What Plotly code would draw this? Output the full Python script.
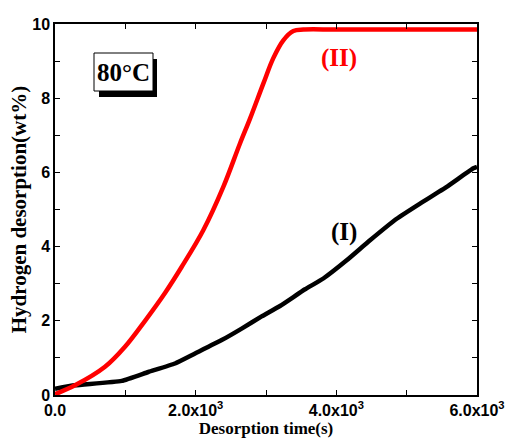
import plotly.graph_objects as go

# Series (II) - red
t_II = [0, 284, 711, 995, 1280, 1564, 1800, 2108, 2393, 2630, 2773, 2963, 3104, 3246, 3389, 3531, 4000, 5000, 6000]
w_II = [0.02, 0.26, 0.76, 1.30, 2.00, 2.75, 3.45, 4.44, 5.61, 6.78, 7.45, 8.40, 9.08, 9.56, 9.81, 9.85, 9.85, 9.85, 9.85]

# Series (I) - black
t_I = [0, 284, 948, 1327, 1706, 1991, 2370, 2654, 2938, 3199, 3555, 3815, 4147, 4479, 4858, 5190, 5569, 5948, 6000]
w_I = [0.17, 0.26, 0.38, 0.62, 0.85, 1.12, 1.48, 1.79, 2.12, 2.40, 2.85, 3.14, 3.63, 4.17, 4.75, 5.16, 5.61, 6.11, 6.15]

x_tickvals = [0, 2000, 4000, 6000]
x_ticktext = ["0.0", "2.0x10<sup>3</sup>", "4.0x10<sup>3</sup>", "6.0x10<sup>3</sup>"]
y_tickvals = [0, 2, 4, 6, 8, 10]

fig = go.Figure()
fig.add_trace(go.Scatter(x=t_I, y=w_I, mode="lines",
                         line=dict(color="black", width=4.5, shape="spline", smoothing=0.4),
                         showlegend=False))
fig.add_trace(go.Scatter(x=t_II, y=w_II, mode="lines",
                         line=dict(color="#ff0000", width=4.5, shape="spline", smoothing=1.0),
                         showlegend=False))

L, R, T, B = 55, 28, 24, 53
W, H = 505, 448
pw, ph = W - L - R, H - T - B

def px(x):
    return (x - L) / pw

def py(y):
    return (H - B - y) / ph

axis_common = dict(
    showline=True, linecolor="black", linewidth=1.5, mirror="allticks",
    ticks="inside", ticklen=5, tickwidth=1, tickcolor="black",
    showgrid=False, zeroline=False, automargin=False,
    tickfont=dict(family="Liberation Sans", size=16, color="black", weight="bold"),
)

fig.update_xaxes(range=[0, 6000], tickvals=x_tickvals, ticktext=x_ticktext,
                 minor=dict(dtick=1000, ticks="inside", ticklen=5, tickcolor="black"),
                 title=dict(text="Desorption time(s)", standoff=4,
                            font=dict(family="Liberation Serif", size=17, color="black", weight="bold")),
                 **axis_common)
fig.update_yaxes(range=[0, 10], tickvals=y_tickvals,
                 minor=dict(dtick=1, ticks="inside", ticklen=5, tickcolor="black"),
                 title=dict(text="Hydrogen desorption(wt%)", standoff=0,
                            font=dict(family="Liberation Serif", size=21, color="black", weight="bold")),
                 **axis_common)

# 80°C box with shadow
fig.add_shape(type="rect", xref="paper", yref="paper",
              x0=px(99), x1=px(157), y0=py(97), y1=py(59),
              fillcolor="black", line=dict(width=0))
fig.add_shape(type="rect", xref="paper", yref="paper",
              x0=px(94), x1=px(153), y0=py(91), y1=py(53),
              fillcolor="white", line=dict(color="black", width=1))
fig.add_annotation(xref="paper", yref="paper", x=px(123.5), y=py(72), text="80°C",
                   showarrow=False, xanchor="center", yanchor="middle",
                   font=dict(family="Liberation Serif", size=25, color="black", weight="bold"))

fig.add_annotation(xref="paper", yref="paper", x=px(339), y=py(58), text="(II)",
                   showarrow=False, xanchor="center", yanchor="middle",
                   font=dict(family="Liberation Serif", size=25, color="#ff0000", weight="bold"))
fig.add_annotation(xref="paper", yref="paper", x=px(344), y=py(232), text="(I)",
                   showarrow=False, xanchor="center", yanchor="middle",
                   font=dict(family="Liberation Serif", size=25, color="black", weight="bold"))

fig.update_layout(width=W, height=H, margin=dict(l=L, r=R, t=T, b=B),
                  plot_bgcolor="white", paper_bgcolor="white")

fig.write_html("out.html", config={"displayModeBar": False},
               post_script="document.body.style.margin='0';document.body.style.overflow='hidden';")
